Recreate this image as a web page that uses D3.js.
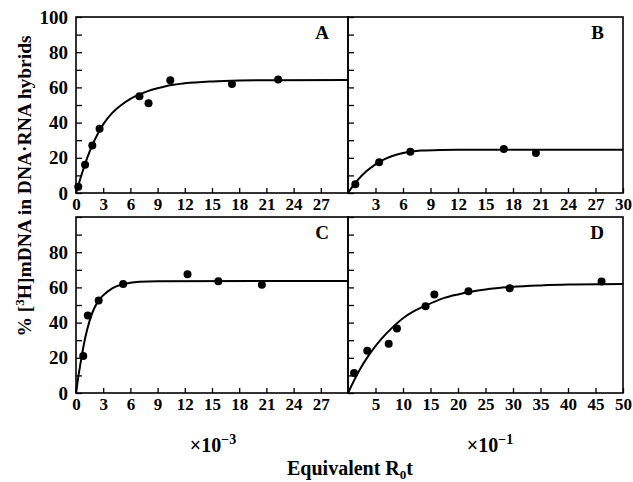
<!DOCTYPE html>
<html>
<head>
<meta charset="utf-8">
<script src="https://cdn.jsdelivr.net/npm/d3@7"></script>
<style>
  body { margin: 0; background: #fff; }
  text { font-family: "Liberation Serif", "Times New Roman", serif; font-weight: bold; fill: #000; }
</style>
</head>
<body>
<svg id="chart" width="633" height="482"></svg>
<script>
// tick values
const xTicks30 = [0, 3, 6, 9, 12, 15, 18, 21, 24, 27];
const xTicksB = [3, 6, 9, 12, 15, 18, 21, 24, 27, 30];
const xTicksD = [5, 10, 15, 20, 25, 30, 35, 40, 45, 50];
const yTicks = [0, 10, 20, 30, 40, 50, 60, 70, 80, 90, 100];
const yLabelsTop = [0, 20, 40, 60, 80, 100];
const yLabelsBottom = [0, 20, 40, 60, 80];

// A
const aDotX = [0.25, 1.0, 1.8, 2.6, 7.0, 8.0, 10.4, 17.2, 22.3];
const aDotY = [3.5, 16, 27, 36.5, 55, 51, 64, 62, 64.5];
const aCurveX = [0, 0.5, 1, 1.5, 2, 3, 4, 5, 6, 7, 8, 9, 10, 12, 15, 18, 22, 30];
const aCurveY = [0, 8.5, 16.5, 23.5, 29.5, 39, 45.5, 50, 53.5, 56, 58, 59.5, 60.8, 62.3, 63.4, 63.9, 64.1, 64.2];

// B
const bDotX = [0.8, 3.4, 6.8, 17.0, 20.5];
const bDotY = [5, 17.5, 23.5, 25, 22.7];
const bCurveX = [0, 0.5, 1, 2, 3, 4, 5, 6, 7, 8, 10, 12, 30];
const bCurveY = [0, 3.8, 7, 12.3, 16.3, 19.2, 21.3, 22.7, 23.6, 24.1, 24.5, 24.6, 24.6];

// C
const cDotX = [0.8, 1.3, 2.5, 5.2, 12.3, 15.7, 20.5];
const cDotY = [21, 44, 52.5, 62, 67.5, 63.5, 61.5];
const cCurveX = [0, 0.25, 0.5, 1, 1.5, 2, 2.5, 3, 4, 5, 6, 7, 9, 30];
const cCurveY = [0, 9, 17, 31, 41, 48, 52.5, 55.5, 59.5, 61.5, 62.7, 63.2, 63.5, 63.6];

// D
const dDotX = [1.1, 3.5, 7.4, 8.9, 14.1, 15.7, 21.9, 29.4, 46.1];
const dDotY = [11.3, 24, 28, 36.7, 49.3, 56, 57.8, 59.5, 63.4];
const dCurveX = [0, 2, 4, 6, 8, 10, 12, 14, 17, 20, 25, 30, 35, 40, 50];
const dCurveY = [0, 12.5, 22.5, 30.5, 37, 42.5, 46.5, 49.5, 53.5, 56, 58.8, 60.3, 61.1, 61.6, 61.9];

const svg = d3.select("#chart");

const panels = [
  { name: "A", x0: 76, x1: 348, y0: 17, y1: 193, xMax: 30, xTicks: xTicks30, yLabels: yLabelsTop,
    dx: aDotX, dy: aDotY, cx: aCurveX, cy: aCurveY },
  { name: "B", x0: 348, x1: 623, y0: 17, y1: 193, xMax: 30, xTicks: xTicksB, yLabels: null,
    dx: bDotX, dy: bDotY, cx: bCurveX, cy: bCurveY },
  { name: "C", x0: 76, x1: 348, y0: 217, y1: 393, xMax: 30, xTicks: xTicks30, yLabels: yLabelsBottom,
    dx: cDotX, dy: cDotY, cx: cCurveX, cy: cCurveY },
  { name: "D", x0: 348, x1: 623, y0: 217, y1: 393, xMax: 50, xTicks: xTicksD, yLabels: null,
    dx: dDotX, dy: dDotY, cx: dCurveX, cy: dCurveY },
];

panels.forEach(p => {
  const x = d3.scaleLinear().domain([0, p.xMax]).range([p.x0, p.x1]);
  const y = d3.scaleLinear().domain([0, 100]).range([p.y1, p.y0]);
  const g = svg.append("g");

  // x axis, ticks pointing in
  const xg = g.append("g")
    .attr("transform", `translate(0,${p.y1})`)
    .call(d3.axisBottom(x).tickValues(p.xTicks).tickSizeInner(-5).tickSizeOuter(0).tickPadding(5));
  xg.select(".domain").remove();
  xg.attr("font-size", 17).attr("font-family", null);
  xg.selectAll("line").attr("stroke", "#000").attr("stroke-width", 1.3);

  // y axis
  const yAxis = d3.axisLeft(y).tickValues(yTicks).tickSizeInner(-6).tickSizeOuter(0).tickPadding(8)
    .tickFormat(d => (p.yLabels && p.yLabels.includes(d)) ? d : "");
  const yg = g.append("g").attr("transform", `translate(${p.x0},0)`).call(yAxis);
  yg.select(".domain").remove();
  yg.attr("font-size", 19).attr("font-family", null);
  yg.selectAll("line").attr("stroke", "#000").attr("stroke-width", 1.3);

  // frame
  g.append("rect")
    .attr("x", p.x0).attr("y", p.y0)
    .attr("width", p.x1 - p.x0).attr("height", p.y1 - p.y0)
    .attr("fill", "none").attr("stroke", "#000").attr("stroke-width", 1.6);

  // fitted curve
  const line = d3.line()
    .x((d, i) => x(p.cx[i]))
    .y((d, i) => y(p.cy[i]))
    .curve(d3.curveMonotoneX);
  g.append("path")
    .attr("d", line(p.cx))
    .attr("fill", "none").attr("stroke", "#000").attr("stroke-width", 2);

  // data points
  g.selectAll("circle.pt")
    .data(p.dx)
    .join("circle")
    .attr("class", "pt")
    .attr("cx", d => x(d))
    .attr("cy", (d, i) => y(p.dy[i]))
    .attr("r", 4)
    .attr("fill", "#000");

  // panel letter
  g.append("text")
    .attr("x", p.x1 - 19).attr("y", p.y0 + 22)
    .attr("text-anchor", "end")
    .attr("font-size", 19)
    .text(p.name);
});

// y title
const yt = svg.append("text")
  .attr("transform", "translate(31,186) rotate(-90)")
  .attr("text-anchor", "middle")
  .attr("font-size", 19.5);
yt.append("tspan").text("% [");
yt.append("tspan").attr("font-size", 13).attr("dy", -7).text("3");
yt.append("tspan").attr("dy", 7).text("H]mDNA in DNA\u00b7RNA hybrids");

// scale factors
function scaleNote(cx, exp) {
  const t = svg.append("text").attr("x", cx).attr("y", 452)
    .attr("text-anchor", "middle").attr("font-size", 20).attr("font-weight", "normal");
  t.append("tspan").text("\u00d710");
  t.append("tspan").attr("font-size", 14).attr("dy", -8).text(exp);
}
scaleNote(213, "\u22123");
scaleNote(490, "\u22121");

// x title
const xt = svg.append("text").attr("x", 350).attr("y", 475)
  .attr("text-anchor", "middle").attr("font-size", 20);
xt.append("tspan").text("Equivalent R");
xt.append("tspan").attr("font-size", 13).attr("dy", 4).text("0");
xt.append("tspan").attr("dy", -4).text("t");
</script>
</body>
</html>
